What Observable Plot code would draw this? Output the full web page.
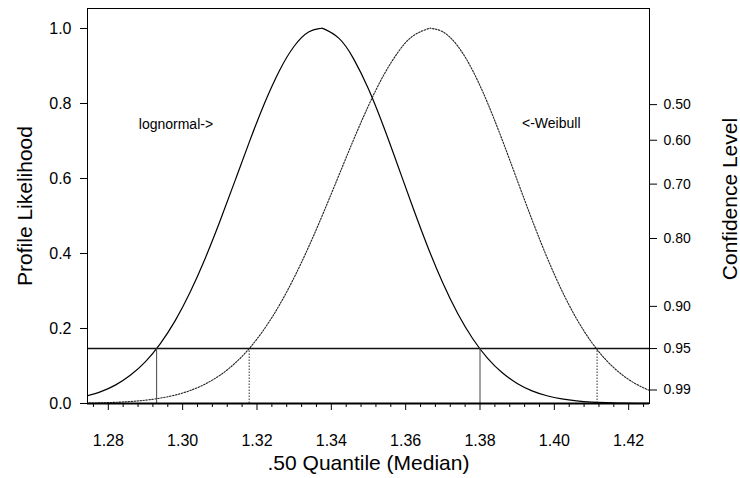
<!DOCTYPE html>
<html>
<head>
<meta charset="utf-8">
<script src="https://cdn.jsdelivr.net/npm/d3@7"></script>
<script src="https://cdn.jsdelivr.net/npm/@observablehq/plot@0.6"></script>
<style>
  html, body { margin: 0; padding: 0; background: #fff; }
  #chart svg { display: block; }
</style>
</head>
<body>
<div id="chart"></div>
<script>
// Lognormal profile likelihood (solid)
const lnX = [1.274,1.278,1.282,1.286,1.290,1.294,1.298,1.302,1.306,1.310,1.314,1.318,1.322,1.326,1.330,1.334,1.337,1.338,1.342,1.346,1.350,1.354,1.358,1.362,1.366,1.370,1.374,1.378,1.382,1.386,1.390,1.394,1.398,1.402,1.406,1.410,1.414,1.418,1.422,1.426];
const lnY = [0.0195,0.0316,0.0497,0.0758,0.1117,0.1598,0.2211,0.2967,0.3855,0.4853,0.5917,0.6990,0.8000,0.8869,0.9526,0.9911,1.0,0.999,0.9743,0.9190,0.8385,0.7399,0.6314,0.5212,0.4161,0.3213,0.2400,0.1734,0.1211,0.0818,0.0535,0.0338,0.0207,0.0122,0.0070,0.0039,0.0021,0.0011,0.0005,0.0002];
// Weibull profile likelihood (dotted)
const wbX = [1.274,1.278,1.282,1.286,1.290,1.294,1.298,1.302,1.306,1.310,1.314,1.318,1.322,1.326,1.330,1.334,1.338,1.342,1.346,1.350,1.354,1.358,1.362,1.366,1.367,1.370,1.374,1.378,1.382,1.386,1.390,1.394,1.398,1.402,1.406,1.410,1.414,1.418,1.422,1.426];
const wbY = [0.0010,0.0018,0.0032,0.0054,0.0089,0.0143,0.0225,0.0345,0.0516,0.0751,0.1066,0.1476,0.1992,0.2620,0.3360,0.4199,0.5117,0.6077,0.7037,0.7943,0.8740,0.9375,0.9803,0.9992,1.0,0.9912,0.9532,0.8883,0.8023,0.7023,0.5958,0.4899,0.3903,0.3014,0.2256,0.1636,0.1150,0.0784,0.0518,0.0331];

// 95% cutoff and interval endpoints
const cutoff = [0.1465];
const lnCI = [1.2930, 1.3800];
const wbCI = [1.3179, 1.4115];

// Axis ticks
const xTicks = [1.28, 1.30, 1.32, 1.34, 1.36, 1.38, 1.40, 1.42];
const xMinorTicks = [1.276,1.284,1.288,1.292,1.296,1.304,1.308,1.312,1.316,1.324,1.328,1.332,1.336,1.344,1.348,1.352,1.356,1.364,1.368,1.372,1.376,1.384,1.388,1.392,1.396,1.404,1.408,1.412,1.416,1.424];
const yTicks = [0, 0.2, 0.4, 0.6, 0.8, 1.0];
const confPos = [0.797, 0.702, 0.585, 0.440, 0.259, 0.1465, 0.036];
const confLabels = ["0.50", "0.60", "0.70", "0.80", "0.90", "0.95", "0.99"];

// Annotations
const annoText = ["lognormal->", "<-Weibull"];
const annoX = [1.2882, 1.3913];
const annoY = [0.743, 0.746];

const lnData = lnX.map((x, i) => ({x, y: lnY[i]}));
const wbData = wbX.map((x, i) => ({x, y: wbY[i]}));
const annos = annoText.map((t, i) => ({t, x: annoX[i], y: annoY[i]}));
const confMap = new Map(confPos.map((p, i) => [p, confLabels[i]]));

const font = "'Liberation Sans', Arial, Helvetica, sans-serif";

const chart = Plot.plot({
  width: 740,
  height: 478,
  marginTop: 8,
  marginBottom: 75,
  marginLeft: 87,
  marginRight: 91,
  style: {fontFamily: font, fontSize: "16px", color: "#000", background: "#fff"},
  x: {domain: [1.2744, 1.4256]},
  y: {domain: [0, 1.0533]},
  marks: [
    Plot.line(lnData, {x: "x", y: "y", stroke: "#000", strokeWidth: 1.2, curve: "natural", clip: true}),
    Plot.line(wbData, {x: "x", y: "y", stroke: "#222", strokeWidth: 1.1, strokeDasharray: "1.5,1.5", curve: "natural", clip: true}),
    Plot.ruleY(cutoff, {stroke: "#111", strokeWidth: 1.5}),
    Plot.ruleX(lnCI, {y1: 0, y2: cutoff[0], stroke: "#444", strokeWidth: 1}),
    Plot.ruleX(wbCI, {y1: 0, y2: cutoff[0], stroke: "#333", strokeWidth: 1, strokeDasharray: "1.5,1.5"}),
    Plot.text(annos, {x: "x", y: "y", text: "t", textAnchor: "start", fontSize: 14, fill: "#000"}),
    Plot.frame({stroke: "#000", strokeWidth: 1}),
    Plot.ruleY([0], {stroke: "#000", strokeWidth: 2}),
    Plot.axisX(xTicks, {anchor: "bottom", tickSize: 7, tickPadding: 24, tickFormat: d3.format(".2f"), fontSize: 16, stroke: "#000", label: null}),
    Plot.axisX(xMinorTicks, {anchor: "bottom", tickSize: 4, tickFormat: () => "", stroke: "#000", label: null}),
    Plot.axisY(yTicks, {anchor: "left", tickSize: 7, tickPadding: 9, tickFormat: d3.format(".1f"), fontSize: 16, stroke: "#000", label: null}),
    Plot.axisY(confPos, {anchor: "right", tickSize: 7, tickPadding: 7, tickFormat: d => confMap.get(d), fontSize: 14, stroke: "#000", label: null}),
    Plot.text([".50 Quantile (Median)"], {frameAnchor: "bottom", dy: 66, fontSize: 21, fill: "#000"}),
    Plot.text(["Profile Likelihood"], {frameAnchor: "left", textAnchor: "middle", dx: -62, rotate: -90, fontSize: 21, fill: "#000"}),
    Plot.text(["Confidence Level"], {frameAnchor: "right", textAnchor: "middle", dx: 81, dy: -7, rotate: -90, fontSize: 21, fill: "#000"})
  ]
});
document.getElementById("chart").appendChild(chart);
</script>
</body>
</html>
